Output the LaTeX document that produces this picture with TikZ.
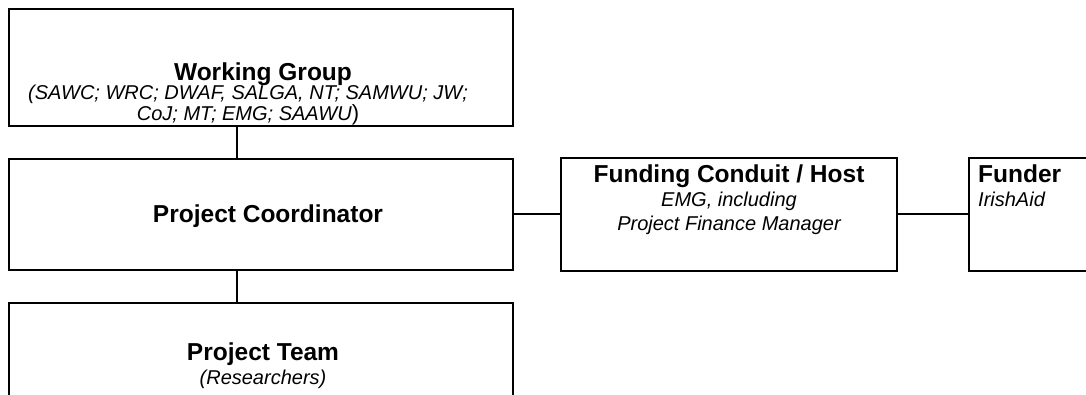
\documentclass[tikz,border=0pt]{standalone}
\usepackage{fontspec}
\setmainfont{Liberation Sans}
\tikzset{
  box/.style={draw, line width=2pt, rectangle, inner sep=0pt},
  conn/.style={draw, line width=2pt},
  ttl/.style={font=\fontsize{24.5}{29}\selectfont\bfseries, anchor=base, inner sep=0pt},
  sub/.style={font=\fontsize{20}{24}\selectfont\itshape, anchor=base, inner sep=0pt},
  ttlw/.style={ttl, anchor=base west},
  subw/.style={sub, anchor=base west},
}
\begin{document}
\begin{tikzpicture}[x=1pt,y=-1pt]
\clip (0,0) rectangle (1086,395);
\fill[white] (0,0) rectangle (1086,395);
% boxes
\node[box, minimum width=504pt, minimum height=117pt] (wg) at (261,67.5) {};
\node[box, minimum width=504pt, minimum height=111pt] (pc) at (261,214.5) {};
\node[box, minimum width=504pt, minimum height=127pt] (pt) at (261,366.5) {};
\node[box, minimum width=336pt, minimum height=113pt] (fc) at (729,214.5) {};
\node[box, minimum width=336pt, minimum height=113pt] (fu) at (1137,214.5) {};
\coordinate (cx) at (237,0);
% connectors
\draw[conn] (wg.south -| cx) -- (pc.north -| cx);
\draw[conn] (pc.south -| cx) -- (pt.north -| cx);
\draw[conn] (pc.east) -- (fc.west);
\draw[conn] (fc.east) -- (fu.west);
% texts
\node[ttl] (wgt) at (263,81) {Working Group};
\node[sub] (wg1) at (248,100) {(SAWC; WRC; DWAF, SALGA, NT; SAMWU; JW;};
\node[sub] (wg2) at (248,121) {CoJ; MT; EMG; SAAWU\upshape\fontsize{22}{26}\selectfont)};
\node[ttl] (pct) at (268,223) {Project Coordinator};
\node[ttl] (fct) at (729,183) {Funding Conduit / Host};
\node[sub] (fc1) at (729,207) {EMG, including};
\node[sub] (fc2) at (729,231) {Project Finance Manager};
\node[ttlw] (fut) at (978,183) {Funder};
\node[subw] (fu1) at (978,207) {IrishAid};
\node[ttl] (ptt) at (263,360) {Project Team};
\node[sub] (pt1) at (263,384) {(Researchers)};
\end{tikzpicture}
\end{document}
